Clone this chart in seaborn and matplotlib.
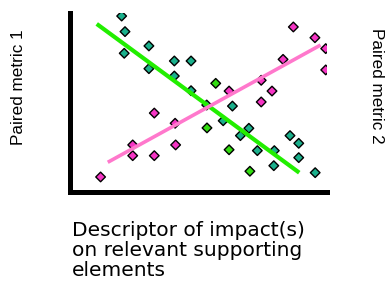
#!/usr/bin/env python3
# Paired-metric scatter with two opposing trend lines

import pandas as pd
import matplotlib.pyplot as plt
import seaborn as sns

# ============================================================================
# DATA (arbitrary 0-100 units)
# ============================================================================
teal_x = [20.1, 21.4, 21.1, 30.7, 30.7, 40.6, 47.1, 40.6, 47.1, 53.2, 63.2,
          59.6, 69.6, 66.3, 72.9, 79.5, 79.3, 85.6, 89.0, 89.0, 95.4]
teal_y = [98.3, 89.6, 77.5, 81.6, 68.9, 73.2, 73.2, 64.8, 56.6, 48.6, 48.0,
          39.8, 35.6, 31.5, 23.1, 23.1, 14.7, 31.5, 27.2, 19.2, 10.8]

green_x = [56.7, 53.3, 61.9, 70.0]
green_y = [60.7, 35.8, 23.6, 11.6]

pink_x = [11.9, 24.4, 24.4, 32.8, 32.8, 41.1, 40.9, 61.9, 74.4, 74.4, 78.6,
          82.9, 86.9, 95.3, 99.5, 99.5]
pink_y = [8.4, 26.3, 20.3, 20.3, 44.1, 26.3, 38.4, 56.4, 62.4, 50.3, 56.4,
          74.1, 92.2, 86.2, 80.1, 68.2]

# trend line end points
trend_down_x = [10.4, 89.2]
trend_down_y = [93.9, 10.8]
trend_up_x = [14.7, 97.5]
trend_up_y = [16.6, 82.1]

df = pd.DataFrame({
    "x": teal_x + green_x + pink_x,
    "y": teal_y + green_y + pink_y,
    "group": ["teal"] * len(teal_x) + ["green"] * len(green_x) + ["pink"] * len(pink_x),
})

colors = {
    "teal": "#1bb08c",
    "green": "#33dd11",
    "pink": "#f535c4",
    "line_green": "#22ee00",
    "line_pink": "#ff78cc",
}

# ============================================================================
# THEME
# ============================================================================
sns.set_style("white")
plt.rcParams['font.family'] = ['Liberation Sans', 'DejaVu Sans']
plt.rcParams['text.color'] = 'black'

# ============================================================================
# PLOT
# ============================================================================
fig = plt.figure(figsize=(3.9, 2.86), dpi=100)
ax = fig.add_axes([70 / 390, (286 - 192) / 286, 257 / 390, 179 / 286])

ax.plot(trend_down_x, trend_down_y, color=colors["line_green"], lw=3.0,
        solid_capstyle="butt", zorder=3)
ax.plot(trend_up_x, trend_up_y, color=colors["line_pink"], lw=2.6,
        solid_capstyle="butt", zorder=3)

sns.scatterplot(data=df, x="x", y="y", hue="group",
                palette={k: colors[k] for k in ["teal", "green", "pink"]},
                marker="D", s=24, edgecolor="black", linewidth=1.0,
                legend=False, ax=ax, zorder=2)

ax.set_xlim(0, 100)
ax.set_ylim(0, 100)
ax.set_xticks([])
ax.set_yticks([])
ax.set_xlabel("")
ax.set_ylabel("")
for side in ["top", "right"]:
    ax.spines[side].set_visible(False)
for side in ["left", "bottom"]:
    ax.spines[side].set_visible(True)
    ax.spines[side].set_linewidth(3.6)
    ax.spines[side].set_color("black")
    ax.spines[side].set_capstyle("projecting")

fig.text(19 / 390, 1 - 87 / 286, "Paired metric 1", rotation=90,
         ha="center", va="center", fontsize=12.3, color="black")
fig.text(377 / 390, 1 - 86 / 286, "Paired metric 2", rotation=-90,
         ha="center", va="center", fontsize=12.3, color="black")
fig.text(72 / 390, 1 - 221 / 286,
         "Descriptor of impact(s)\non relevant supporting\nelements",
         ha="left", va="top", fontsize=14.5, linespacing=1.06,
         family=["DejaVu Sans"], color="black")

fig.savefig("out.png", dpi=100)
plt.close()
